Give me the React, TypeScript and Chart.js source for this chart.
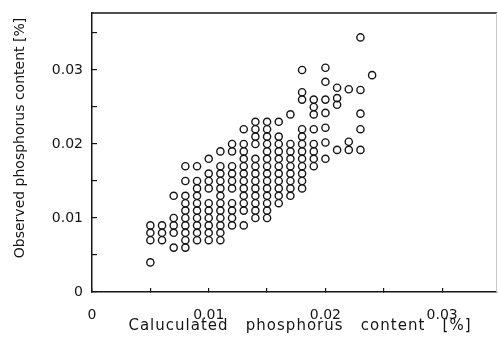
import React, { useEffect, useRef } from 'react';
import { Chart, registerables } from 'chart.js';

Chart.register(...registerables);

// Calculated phosphorus content [%] — the x position of each column of points
const calculatedColumns = [
  0.005, 0.006, 0.007, 0.008, 0.009, 0.010, 0.011, 0.012, 0.013, 0.014,
  0.015, 0.016, 0.017, 0.018, 0.019, 0.020, 0.021, 0.022, 0.023, 0.024,
];

// Observed phosphorus content [%] for each column above
const observedByColumn = [
  [0.009, 0.008, 0.007, 0.004],
  [0.009, 0.008, 0.007],
  [0.013, 0.010, 0.009, 0.008, 0.006],
  [0.017, 0.015, 0.013, 0.012, 0.011, 0.010, 0.009, 0.008, 0.007, 0.006],
  [0.017, 0.015, 0.014, 0.013, 0.012, 0.011, 0.010, 0.009, 0.008, 0.007],
  [0.018, 0.016, 0.015, 0.014, 0.012, 0.011, 0.010, 0.009, 0.008, 0.007],
  [0.019, 0.017, 0.016, 0.015, 0.014, 0.013, 0.012, 0.011, 0.010, 0.009, 0.008, 0.007],
  [0.020, 0.019, 0.017, 0.016, 0.015, 0.014, 0.012, 0.011, 0.010, 0.009],
  [0.022, 0.020, 0.019, 0.018, 0.017, 0.016, 0.015, 0.014, 0.013, 0.012, 0.011, 0.009],
  [0.023, 0.022, 0.021, 0.020, 0.018, 0.017, 0.016, 0.015, 0.014, 0.013, 0.012, 0.011, 0.010],
  [0.023, 0.022, 0.021, 0.020, 0.019, 0.018, 0.017, 0.016, 0.015, 0.014, 0.013, 0.012, 0.011, 0.010],
  [0.023, 0.021, 0.020, 0.019, 0.018, 0.017, 0.016, 0.015, 0.014, 0.013, 0.012],
  [0.024, 0.020, 0.019, 0.018, 0.017, 0.016, 0.015, 0.014, 0.013],
  [0.030, 0.027, 0.026, 0.022, 0.021, 0.020, 0.019, 0.018, 0.017, 0.016, 0.015, 0.014],
  [0.026, 0.025, 0.024, 0.022, 0.020, 0.019, 0.018, 0.017],
  [0.0303, 0.0284, 0.026, 0.0242, 0.0222, 0.0202, 0.018],
  [0.0276, 0.0262, 0.0253, 0.0192],
  [0.0274, 0.0203, 0.0192],
  [0.0344, 0.0273, 0.0241, 0.022, 0.0192],
  [0.0293],
];

// Axis ticks (marks every 0.005, labels every 0.01)
const xTickValues = [0, 0.005, 0.01, 0.015, 0.02, 0.025, 0.03];
const yTickValues = [0, 0.005, 0.01, 0.015, 0.02, 0.025, 0.03, 0.035];
const tickLabels = ['0', '0.01', '0.02', '0.03'];
const xMax = 0.0347;
const yMax = 0.0377;

const xTitle = 'Caluculated   phosphorus   content   [%]';
const yTitle = 'Observed phosphorus content [%]';

const FONT = 'DejaVu Sans';
const INK = '#151515';

function labelFor(v: number): string {
  const idx = Math.round(v * 100);
  if (Math.abs(v * 100 - idx) > 1e-6) return '';
  return tickLabels[idx] ?? '';
}

const framePlugin = {
  id: 'frameAndTitles',
  beforeDatasetsDraw(chart: any) {
    const { ctx, chartArea } = chart;
    ctx.save();
    ctx.strokeStyle = INK;
    ctx.lineWidth = 1.5;
    ctx.beginPath();
    ctx.moveTo(chartArea.left, chartArea.top);
    ctx.lineTo(chartArea.right, chartArea.top);
    ctx.stroke();
    ctx.strokeStyle = '#c8c8c8';
    ctx.lineWidth = 1;
    ctx.beginPath();
    ctx.moveTo(chartArea.right - 0.5, chartArea.top);
    ctx.lineTo(chartArea.right - 0.5, chartArea.bottom);
    ctx.stroke();
    ctx.restore();
  },
  afterDraw(chart: any) {
    const { ctx, chartArea } = chart;
    ctx.save();
    ctx.fillStyle = INK;
    ctx.textAlign = 'center';
    ctx.textBaseline = 'middle';
    ctx.font = `15px "${FONT}"`;
    (ctx as any).letterSpacing = '1px';
    ctx.fillText(xTitle, chartArea.left + 208, chartArea.bottom + 34);
    ctx.font = `14px "${FONT}"`;
    (ctx as any).letterSpacing = '0px';
    ctx.translate(chartArea.left - 72, chartArea.top + 125);
    ctx.rotate(-Math.PI / 2);
    ctx.fillText(yTitle, 0, 0);
    ctx.restore();
  },
};

export default function App() {
  const ref = useRef<HTMLCanvasElement>(null);

  useEffect(() => {
    if (!ref.current) return;
    const points: { x: number; y: number }[] = [];
    calculatedColumns.forEach((x, i) => {
      observedByColumn[i].forEach((y) => points.push({ x, y }));
    });

    const chart = new Chart(ref.current, {
      type: 'scatter',
      data: {
        datasets: [
          {
            data: points,
            pointStyle: 'circle',
            pointRadius: 3.6,
            pointHoverRadius: 3.6,
            borderColor: INK,
            backgroundColor: 'rgba(0,0,0,0)',
            borderWidth: 1.4,
            showLine: false,
          },
        ],
      },
      options: {
        responsive: false,
        animation: false,
        devicePixelRatio: 1,
        layout: { autoPadding: false, padding: { top: 13, right: 1, left: 0, bottom: 0 } },
        plugins: {
          legend: { display: false },
          tooltip: { enabled: false },
        },
        scales: {
          x: {
            type: 'linear',
            min: 0,
            max: xMax,
            afterBuildTicks: (s: any) => {
              s.ticks = xTickValues.map((value) => ({ value }));
            },
            afterFit: (s: any) => {
              s.height = 52;
              s.paddingLeft = 0;
              s.paddingRight = 0;
            },
            border: { display: true, color: INK, width: 1.5 },
            grid: { drawOnChartArea: false, drawTicks: true, tickLength: -4, color: INK, lineWidth: 1.2 },
            ticks: {
              padding: 19,
              color: INK,
              font: { family: FONT, size: 14 },
              maxRotation: 0,
              autoSkip: false,
              callback: (v: any) => labelFor(Number(v)),
            },
          },
          y: {
            type: 'linear',
            min: 0,
            max: yMax,
            afterBuildTicks: (s: any) => {
              s.ticks = yTickValues.map((value) => ({ value }));
            },
            afterFit: (s: any) => {
              s.width = 92;
              s.paddingTop = 0;
              s.paddingBottom = 0;
            },
            border: { display: true, color: INK, width: 1.5 },
            grid: { drawOnChartArea: false, drawTicks: true, tickLength: -5, color: INK, lineWidth: 1.2 },
            ticks: {
              padding: 14,
              color: INK,
              font: { family: FONT, size: 14 },
              autoSkip: false,
              callback: (v: any) => labelFor(Number(v)),
            },
          },
        },
      },
      plugins: [framePlugin],
    });
    return () => chart.destroy();
  }, []);

  return (
    <div style={{ position: 'absolute', left: 0, top: 0, width: 498, height: 344, background: '#fff' }}>
      <canvas ref={ref} width={498} height={344} style={{ display: 'block' }} />
    </div>
  );
}
